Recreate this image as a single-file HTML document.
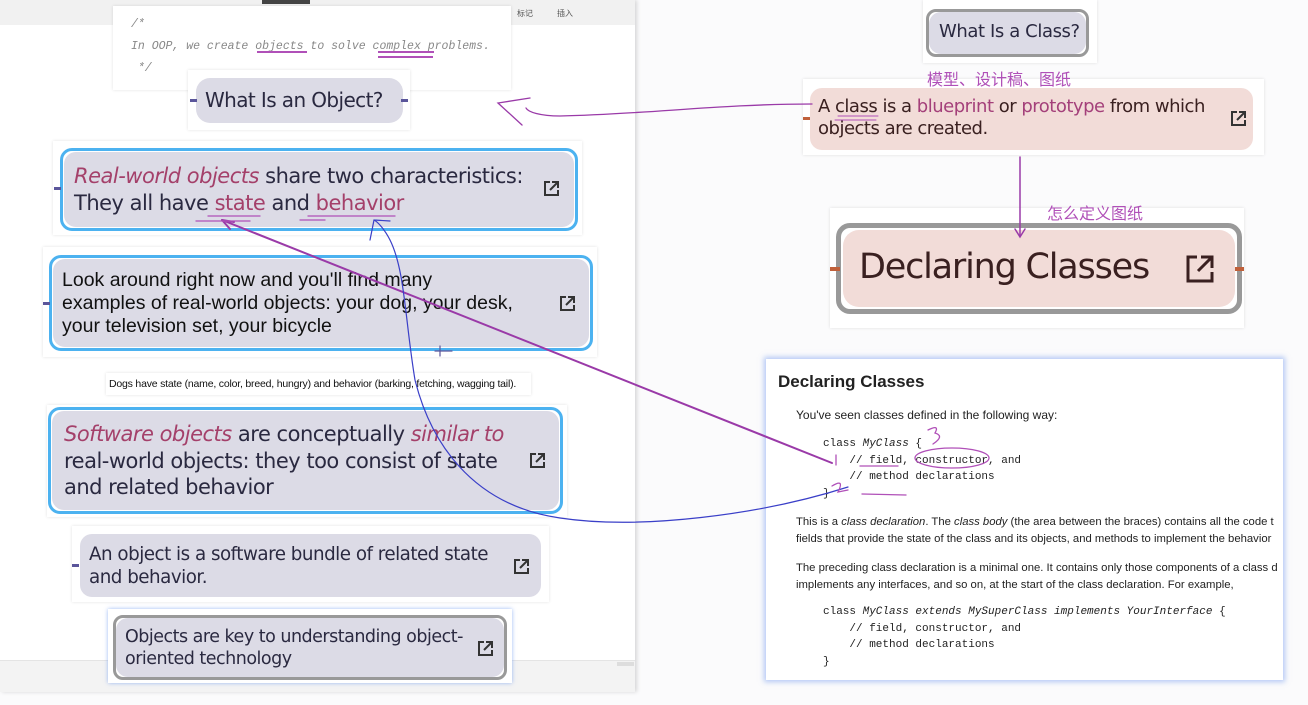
<!DOCTYPE html>
<html><head><meta charset="utf-8"><style>
*{margin:0;padding:0;box-sizing:border-box}
body{width:1308px;height:705px;position:relative;overflow:hidden;background:#fbfbfc;font-family:"Liberation Sans","Noto Sans CJK SC",sans-serif}
.a{position:absolute}
.frame{position:absolute;background:#fff;box-shadow:0 0 3px rgba(0,0,0,.12)}
.pill{position:absolute;background:#dcdbe6;border-radius:12px;color:#2a2940;font-family:"DejaVu Sans","Liberation Sans",sans-serif}
.blue{position:absolute;border:3px solid #4cb2f0;border-radius:12px}
.t{position:absolute;white-space:nowrap}
.m{color:#a4406a;font-style:italic}
.ic{position:absolute;width:17px;height:17px}
.dash{position:absolute;height:3px;width:7px;background:#5a559a}
.mono{font-family:"Liberation Mono","DejaVu Sans Mono",monospace}
</style></head><body>
<!-- left panel -->
<div class="a" style="left:0;top:0;width:635px;height:692px;background:#fff;box-shadow:2px 0 4px rgba(0,0,0,.15)"></div>
<div class="a" style="left:0;top:0;width:635px;height:25px;background:#f1f1f1"></div>
<div class="a" style="left:262px;top:0;width:48px;height:4px;background:#444"></div>
<div class="t" style="left:517px;top:8px;font-size:8px;color:#555">标记</div>
<div class="t" style="left:557px;top:8px;font-size:8px;color:#555">插入</div>
<div class="a" style="left:0;top:660px;width:635px;height:32px;background:#f3f3f3;border-top:1px solid #e4e4e4"></div>
<div class="a" style="left:617px;top:662px;width:17px;height:4px;background:#ddd"></div>

<!-- comment -->
<div class="frame" style="left:113px;top:6px;width:398px;height:84px"></div>
<div class="t mono" style="left:131px;top:14px;font-size:11.5px;font-style:italic;color:#888;line-height:22px">/*<br>In OOP, we create objects to solve complex problems.<br>&nbsp;*/</div>
<div class="a" style="left:257px;top:51px;width:50px;height:1.5px;background:#b050b8"></div>
<div class="a" style="left:378px;top:51px;width:56px;height:1.5px;background:#b050b8"></div>
<div class="a" style="left:378px;top:56px;width:55px;height:1.5px;background:#b050b8"></div>

<!-- What is an object -->
<div class="frame" style="left:188px;top:70px;width:222px;height:60px"></div>
<div class="pill" style="left:196px;top:78px;width:207px;height:45px;border-radius:14px"></div>
<div class="t" style="left:205px;top:88px;font-size:20px;color:#2a2940;font-family:'DejaVu Sans',sans-serif;letter-spacing:-0.6px">What Is an Object?</div>
<div class="dash" style="left:190px;top:99px"></div><div class="dash" style="left:401px;top:99px"></div>

<!-- card1 -->
<div class="frame" style="left:53px;top:141px;width:529px;height:94px"></div>
<div class="blue" style="left:60px;top:148px;width:518px;height:83px"></div>
<div class="pill" style="left:64px;top:152px;width:510px;height:75px"></div>
<div class="t" style="left:74px;top:163px;font-size:21px;line-height:27px;color:#2a2940;font-family:'DejaVu Sans',sans-serif;letter-spacing:-0.5px"><span class="m">Real-world objects</span> share two characteristics:<br>They all have <span style="color:#a4406a">state</span> and <span style="color:#a4406a">behavior</span></div>
<svg class="ic" style="left:543px;top:180px" viewBox="0 0 17 17"><path d="M7 2H2v13h13v-5M9 2h6v6M15 2L7 10" fill="none" stroke="#333" stroke-width="2"/></svg>
<div class="dash" style="left:54px;top:187px"></div>

<!-- card2 -->
<div class="frame" style="left:43px;top:247px;width:554px;height:110px"></div>
<div class="blue" style="left:49px;top:255px;width:544px;height:96px"></div>
<div class="pill" style="left:53px;top:259px;width:536px;height:88px"></div>
<div class="t" style="left:62px;top:269px;font-size:19.5px;line-height:23px;color:#111">Look around right now and you'll find many<br>examples of real-world objects: your dog, your desk,<br>your television set, your bicycle</div>
<svg class="ic" style="left:559px;top:295px" viewBox="0 0 17 17"><path d="M7 2H2v13h13v-5M9 2h6v6M15 2L7 10" fill="none" stroke="#333" stroke-width="2"/></svg>
<div class="dash" style="left:43px;top:302px"></div>

<!-- caption -->
<div class="frame" style="left:106px;top:373px;width:425px;height:22px"></div>
<div class="t" style="left:109px;top:378px;font-size:10.5px;color:#111;letter-spacing:-0.2px">Dogs have state (name, color, breed, hungry) and behavior (barking, fetching, wagging tail).</div>

<!-- card3 -->
<div class="frame" style="left:47px;top:405px;width:520px;height:112px"></div>
<div class="blue" style="left:48px;top:407px;width:515px;height:107px"></div>
<div class="pill" style="left:52px;top:411px;width:507px;height:99px"></div>
<div class="t" style="left:64px;top:421px;font-size:21px;line-height:26.5px;color:#2a2940;font-family:'DejaVu Sans',sans-serif;letter-spacing:-0.5px"><span class="m">Software objects</span> are conceptually <span class="m">similar to</span><br>real-world objects: they too consist of state<br>and related behavior</div>
<svg class="ic" style="left:529px;top:452px" viewBox="0 0 17 17"><path d="M7 2H2v13h13v-5M9 2h6v6M15 2L7 10" fill="none" stroke="#333" stroke-width="2"/></svg>

<!-- card4 -->
<div class="frame" style="left:72px;top:526px;width:477px;height:76px"></div>
<div class="pill" style="left:80px;top:534px;width:461px;height:63px"></div>
<div class="t" style="left:89px;top:543px;font-size:18.3px;line-height:23px;color:#2a2940;font-family:'DejaVu Sans',sans-serif;letter-spacing:-0.5px">An object is a software bundle of related state<br>and behavior.</div>
<svg class="ic" style="left:513px;top:558px" viewBox="0 0 17 17"><path d="M7 2H2v13h13v-5M9 2h6v6M15 2L7 10" fill="none" stroke="#333" stroke-width="2"/></svg>
<div class="dash" style="left:72px;top:564px"></div>

<!-- card5 -->
<div class="frame" style="left:108px;top:609px;width:404px;height:74px;box-shadow:0 0 4px rgba(90,140,240,.6)"></div>
<div class="a" style="left:113px;top:615px;width:394px;height:65px;border:3px solid #999;border-radius:10px"></div>
<div class="pill" style="left:116px;top:618px;width:388px;height:59px"></div>
<div class="t" style="left:125px;top:626px;font-size:17.5px;line-height:22px;color:#2a2940;font-family:'DejaVu Sans',sans-serif;letter-spacing:-0.5px">Objects are key to understanding object-<br>oriented technology</div>
<svg class="ic" style="left:477px;top:640px" viewBox="0 0 17 17"><path d="M7 2H2v13h13v-5M9 2h6v6M15 2L7 10" fill="none" stroke="#333" stroke-width="2"/></svg>

<!-- right top -->
<div class="frame" style="left:923px;top:0;width:174px;height:63px"></div>
<div class="a" style="left:926px;top:9px;width:163px;height:48px;border:3px solid #999;border-radius:10px"></div>
<div class="pill" style="left:929px;top:12px;width:157px;height:42px"></div>
<div class="t" style="left:939px;top:21px;font-size:18px;color:#2a2940;font-family:'DejaVu Sans',sans-serif;letter-spacing:-0.4px">What Is a Class?</div>

<div class="frame" style="left:803px;top:79px;width:461px;height:76px"></div>
<div class="pill" style="left:810px;top:88px;width:443px;height:62px;background:#f2dcd8"></div>
<div class="t" style="left:818px;top:96px;font-size:18px;line-height:22px;color:#3a2020;font-family:'DejaVu Sans',sans-serif;letter-spacing:-0.5px">A class is a <span style="color:#a4407a">blueprint</span> or <span style="color:#a4407a">prototype</span> from which<br>objects are created.</div>
<svg class="ic" style="left:1230px;top:110px" viewBox="0 0 17 17"><path d="M7 2H2v13h13v-5M9 2h6v6M15 2L7 10" fill="none" stroke="#333" stroke-width="2"/></svg>
<div class="a" style="left:803px;top:117px;width:7px;height:3px;background:#c0603a"></div>
<div class="t" style="left:927px;top:66px;font-size:16px;color:#b050b8">模型、设计稿、图纸</div>

<div class="frame" style="left:830px;top:208px;width:414px;height:120px"></div>
<div class="a" style="left:836px;top:223px;width:406px;height:91px;border:5px solid #999;border-radius:14px"></div>
<div class="pill" style="left:843px;top:230px;width:392px;height:77px;background:#f2dcd8;border-radius:16px"></div>
<div class="t" style="left:859px;top:247px;font-size:35px;color:#3a2020;font-family:'DejaVu Sans',sans-serif;letter-spacing:-1.2px">Declaring Classes</div>
<svg class="a" style="left:1185px;top:254px" width="30" height="30" viewBox="0 0 30 30"><path d="M12 3H3v24h24v-9M16 3h11v11M27 3L13 17" fill="none" stroke="#3a2020" stroke-width="3"/></svg>
<div class="a" style="left:830px;top:267px;width:10px;height:4px;background:#c0603a"></div>
<div class="a" style="left:1235px;top:267px;width:9px;height:4px;background:#c0603a"></div>
<div class="t" style="left:1047px;top:200px;font-size:16px;color:#b050b8">怎么定义图纸</div>

<!-- doc -->
<div class="a" style="left:766px;top:359px;width:517px;height:321px;background:#fff;box-shadow:0 0 5px 2px rgba(110,150,240,.5);overflow:hidden">
<div class="t" style="left:12px;top:13px;font-size:17px;font-weight:bold;color:#222">Declaring Classes</div>
<div class="t" style="left:30px;top:49px;font-size:12px;color:#222">You've seen classes defined in the following way:</div>
<div class="t mono" style="left:57px;top:77px;font-size:11px;line-height:16.5px;color:#222;white-space:pre">class <i>MyClass</i> {
    // field, constructor, and
    // method declarations
}</div>
<div class="t" style="left:30px;top:155px;font-size:11.3px;line-height:17px;color:#222">This is a <i>class declaration</i>. The <i>class body</i> (the area between the braces) contains all the code t<br>fields that provide the state of the class and its objects, and methods to implement the behavior</div>
<div class="t" style="left:30px;top:201px;font-size:11.3px;line-height:17px;color:#222">The preceding class declaration is a minimal one. It contains only those components of a class d<br>implements any interfaces, and so on, at the start of the class declaration. For example,</div>
<div class="t mono" style="left:57px;top:245px;font-size:11px;line-height:16.5px;color:#222;white-space:pre">class <i>MyClass extends MySuperClass implements YourInterface</i> {
    // field, constructor, and
    // method declarations
}</div>
</div>

<!-- annotations -->
<svg class="a" style="left:0;top:0" width="1308" height="705">
<g fill="none" stroke-linecap="round">
<path d="M812 104 C720 104 650 114 560 116 C540 116 528 112 526 108" stroke="#9a3aa8" stroke-width="1.3"/>
<path d="M530 98 L498 103 L522 125" stroke="#9a3aa8" stroke-width="1.3"/>
<path d="M1020 157 L1020 236" stroke="#9a3aa8" stroke-width="1.5"/>
<path d="M1015 229 L1020 237 L1025 229" stroke="#9a3aa8" stroke-width="1.5"/>
<path d="M832 463 L222 220" stroke="#9a3aa8" stroke-width="2"/>
<path d="M222 220 L234 222 M222 220 L230 229" stroke="#9a3aa8" stroke-width="2"/>
<path d="M848 487 C760 515 640 530 560 518 C470 505 430 440 415 380 C405 320 405 270 390 240 C385 230 378 222 374 220" stroke="#3a3fc8" stroke-width="1.2"/>
<path d="M374 220 L370 240 M374 220 L390 221" stroke="#3a3fc8" stroke-width="1.2"/>
<path d="M208 216 L260 216 M196 221 L250 221" stroke="#b050b8" stroke-width="1.3"/>
<path d="M308 216 L395 216 M300 220 L325 220" stroke="#b050b8" stroke-width="1.3"/>
<path d="M838 116 L878 116 M835 120 L876 120" stroke="#b050b8" stroke-width="1"/>
<ellipse cx="952" cy="458" rx="37" ry="10" stroke="#b050b8" stroke-width="1.3"/>
<path d="M860 466 L898 466 M862 494 L906 495 M928 430 Q940 424 935 433 Q945 436 933 444" stroke="#b050b8" stroke-width="1.3"/>
<path d="M836 455 L836 465 M832 486 Q845 478 838 492 L848 490" stroke="#b050b8" stroke-width="1.3"/>
<path d="M440 346 L440 356 M435 351 L452 351" stroke="#5a559a" stroke-width="1.2"/>
</g>
</svg>
</body></html>
